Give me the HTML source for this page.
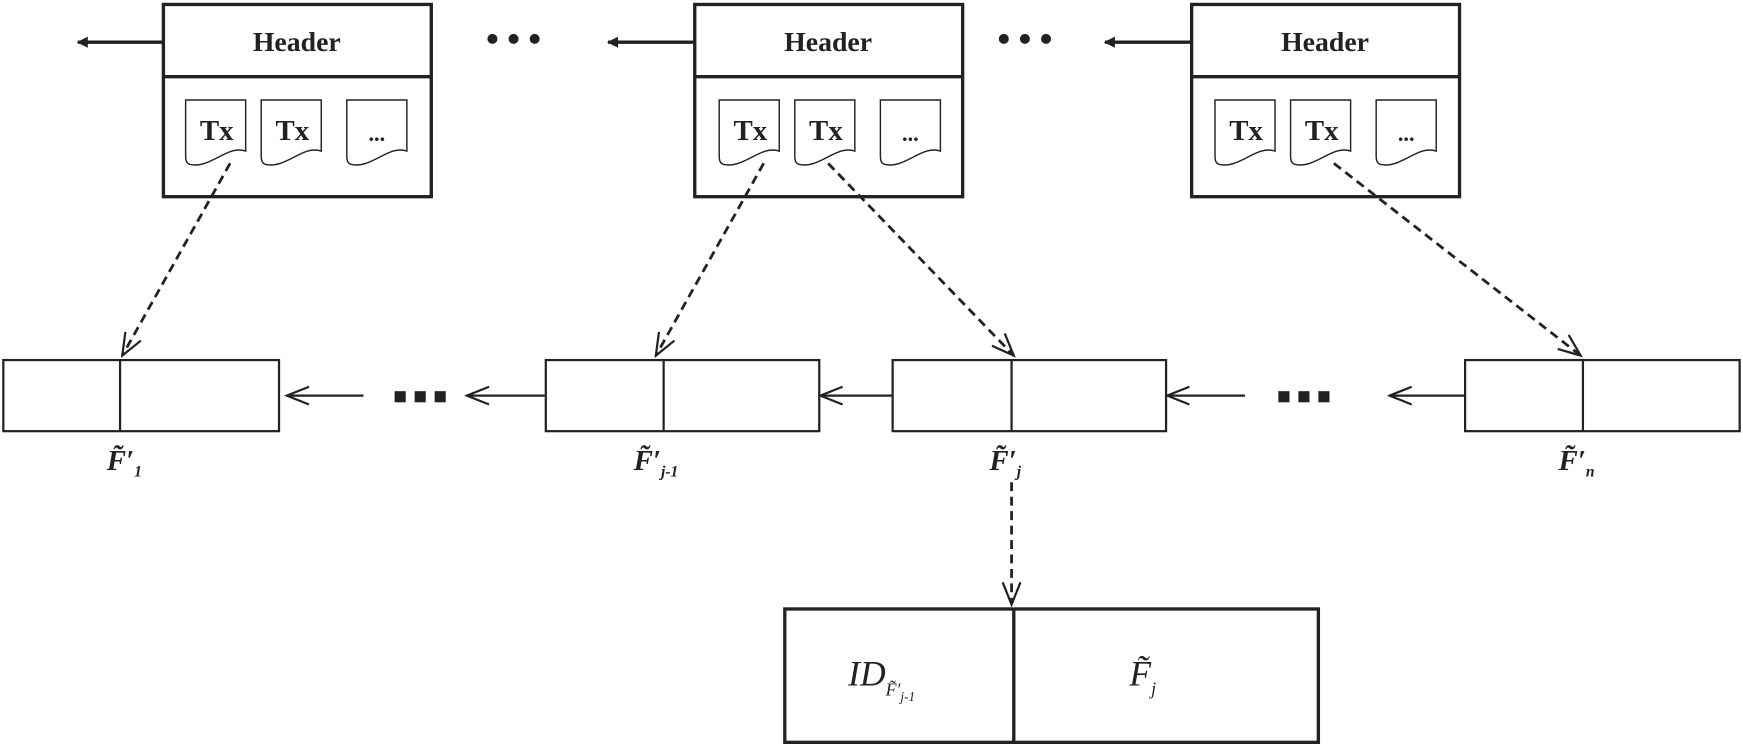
<!DOCTYPE html>
<html><head><meta charset="utf-8"><style>html,body{margin:0;padding:0;background:#fff}svg{display:block}</style></head>
<body>
<svg width="1743" height="749" viewBox="0 0 1568 674" preserveAspectRatio="none" xmlns="http://www.w3.org/2000/svg" font-family="'Liberation Serif', serif">
<defs>
<marker id="fa" markerWidth="10" markerHeight="10" refX="9" refY="5" orient="auto" markerUnits="userSpaceOnUse"><path d="M0,0 L10,5 L0,10 Z" fill="#222"/></marker>
<marker id="oa" markerWidth="24" markerHeight="20" refX="22" refY="10" orient="auto" markerUnits="userSpaceOnUse"><path d="M2,2 L22,10 L2,18" fill="none" stroke="#222" stroke-width="2"/></marker>
<g id="doc"><path d="M0,50 V0 H54 V46 C38,40 22,62 4,58 C1,57 0,55 0,50 Z" fill="#fff" stroke="#222" stroke-width="1.3"/></g>
</defs>
<g stroke="#222" fill="none">
<rect x="147" y="4" width="241" height="173" stroke-width="3"/><line x1="147" y1="69" x2="388" y2="69" stroke-width="3"/>
<rect x="625" y="4" width="241" height="173" stroke-width="3"/><line x1="625" y1="69" x2="866" y2="69" stroke-width="3"/>
<rect x="1072" y="4" width="241" height="173" stroke-width="3"/><line x1="1072" y1="69" x2="1313" y2="69" stroke-width="3"/>
<line x1="147" y1="38" x2="70" y2="38" stroke-width="3" marker-end="url(#fa)"/>
<line x1="625" y1="38" x2="547" y2="38" stroke-width="3" marker-end="url(#fa)"/>
<line x1="1072" y1="38" x2="994" y2="38" stroke-width="3" marker-end="url(#fa)"/>
<rect x="3" y="324" width="248" height="64" stroke-width="2"/><line x1="108" y1="324" x2="108" y2="388" stroke-width="2"/>
<rect x="491" y="324" width="246" height="64" stroke-width="2"/><line x1="597" y1="324" x2="597" y2="388" stroke-width="2"/>
<rect x="803" y="324" width="246" height="64" stroke-width="2"/><line x1="910" y1="324" x2="910" y2="388" stroke-width="2"/>
<rect x="1318" y="324" width="247" height="64" stroke-width="2"/><line x1="1424" y1="324" x2="1424" y2="388" stroke-width="2"/>
<line x1="327" y1="356" x2="258" y2="356" stroke-width="2" marker-end="url(#oa)"/>
<line x1="490" y1="356" x2="420" y2="356" stroke-width="2" marker-end="url(#oa)"/>
<line x1="803" y1="356" x2="738" y2="356" stroke-width="2" marker-end="url(#oa)"/>
<line x1="1120" y1="356" x2="1050" y2="356" stroke-width="2" marker-end="url(#oa)"/>
<line x1="1318" y1="356" x2="1250" y2="356" stroke-width="2" marker-end="url(#oa)"/>
<g stroke-width="2.5" stroke-dasharray="8,5">
<line x1="207" y1="147" x2="110" y2="320" marker-end="url(#oa)"/>
<line x1="687" y1="147" x2="590" y2="320" marker-end="url(#oa)"/>
<line x1="745" y1="147" x2="912" y2="320" marker-end="url(#oa)"/>
<line x1="1200" y1="147" x2="1422" y2="320" marker-end="url(#oa)"/>
<line x1="910" y1="434" x2="910" y2="544" marker-end="url(#oa)"/>
</g>
<rect x="706" y="548" width="480" height="120" stroke-width="3"/><line x1="912" y1="548" x2="912" y2="668" stroke-width="3"/>
</g>
<g>
<use href="#doc" x="167" y="90"/><use href="#doc" x="235" y="90"/><use href="#doc" x="312" y="90"/>
<use href="#doc" x="647" y="90"/><use href="#doc" x="715" y="90"/><use href="#doc" x="792" y="90"/>
<use href="#doc" x="1093" y="90"/><use href="#doc" x="1161" y="90"/><use href="#doc" x="1238" y="90"/>
</g>
<g fill="#222" font-weight="bold" text-anchor="middle">
<text x="267" y="46" font-size="25">Header</text>
<text x="745" y="46" font-size="25">Header</text>
<text x="1192" y="46" font-size="25">Header</text>
<g font-size="26"><text x="195" y="126">Tx</text><text x="263" y="126">Tx</text><text x="675" y="126">Tx</text><text x="743" y="126">Tx</text><text x="1121" y="126">Tx</text><text x="1189" y="126">Tx</text></g>
<g font-size="20"><text x="339" y="127">...</text><text x="819" y="127">...</text><text x="1265" y="127">...</text></g>
</g>
<g fill="#222"><circle cx="443" cy="35" r="4.5"/><circle cx="462" cy="35" r="4.5"/><circle cx="481" cy="35" r="4.5"/>
<circle cx="903" cy="35" r="4.5"/><circle cx="922" cy="35" r="4.5"/><circle cx="941" cy="35" r="4.5"/></g>
<g fill="#222"><rect x="355" y="352" width="10" height="10"/><rect x="373" y="352" width="10" height="10"/><rect x="391" y="352" width="10" height="10"/>
<rect x="1150" y="352" width="10" height="10"/><rect x="1168" y="352" width="10" height="10"/><rect x="1186" y="352" width="10" height="10"/></g>
<g fill="#222" font-style="italic" font-weight="bold" font-size="26">
<text x="96" y="423">F̃′<tspan font-size="14" dy="6">1</tspan></text>
<text x="570" y="423">F̃′<tspan font-size="14" dy="6">j-1</tspan></text>
<text x="890" y="423">F̃′<tspan font-size="14" dy="6">j</tspan></text>
<text x="1402" y="423">F̃′<tspan font-size="14" dy="6">n</tspan></text>
</g>
<g fill="#222" font-style="italic" font-size="32">
<text x="763" y="617">ID<tspan font-size="16" dy="9">F̃′</tspan><tspan font-size="12" dy="5">j-1</tspan></text>
<text x="1016" y="617">F̃<tspan font-size="16" dy="8">j</tspan></text>
</g>
</svg>
</body></html>
